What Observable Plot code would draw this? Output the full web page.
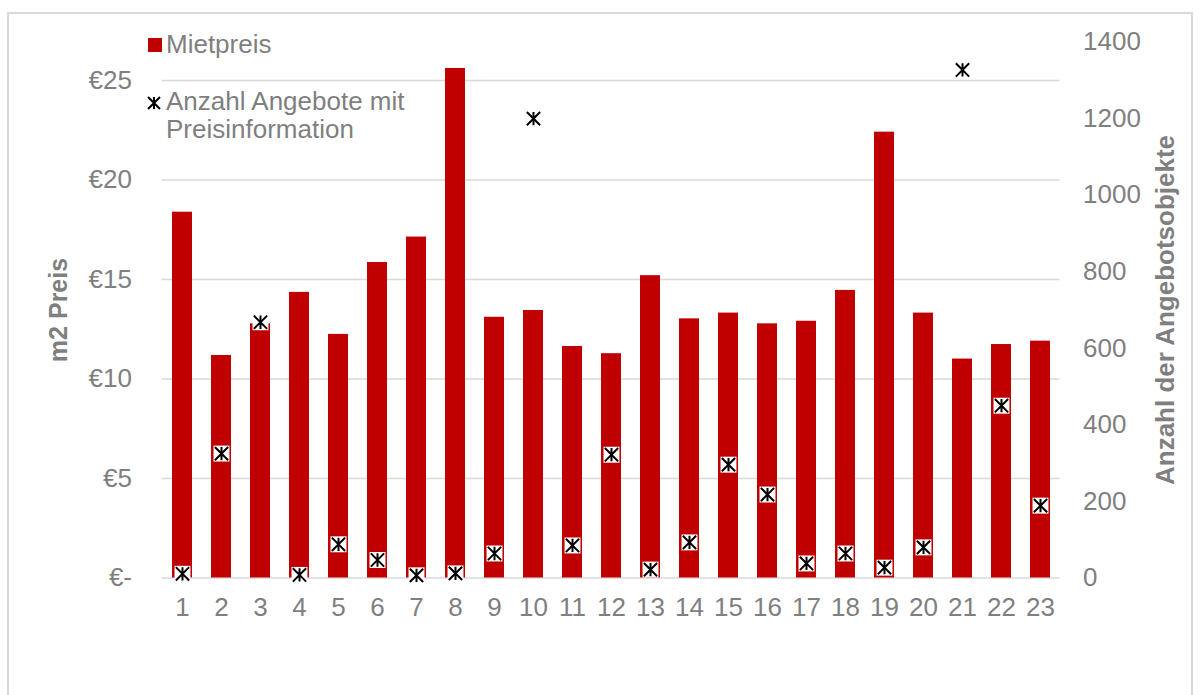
<!DOCTYPE html>
<html>
<head>
<meta charset="utf-8">
<script src="https://cdn.jsdelivr.net/npm/d3@7"></script>
<script src="https://cdn.jsdelivr.net/npm/@observablehq/plot@0.6"></script>
<style>
  html, body { margin: 0; padding: 0; background: #fff; overflow: hidden; }
  #wrap { position: relative; width: 1202px; height: 695px; }
  #frame { position: absolute; left: 7px; top: 12px; width: 1186px; height: 720px; border: 2px solid #d9d9d9; box-sizing: border-box; }
  #chart, #legend { position: absolute; left: 0; top: 0; }
</style>
</head>
<body>
<div id="wrap">
  <div id="frame"></div>
  <div id="chart"></div>
  <svg id="legend" width="1202" height="695"></svg>
</div>
<script>
const categories = ["1","2","3","4","5","6","7","8","9","10","11","12","13","14","15","16","17","18","19","20","21","22","23"];
const prices = [18.38, 11.18, 12.77, 14.35, 12.24, 15.85, 17.13, 25.6, 13.1, 13.44, 11.63, 11.27, 15.19, 13.02, 13.31, 12.77, 12.9, 14.45, 22.4, 13.31, 11.0, 11.73, 11.9];
const counts = [11, 325, 668, 8, 88, 47, 7, 12, 64, 1200, 85, 322, 22, 93, 296, 218, 38, 64, 27, 80, 1327, 450, 189];
const leftTicks = [0, 5, 10, 15, 20, 25];
const rightTicks = [0, 200, 400, 600, 800, 1000, 1200, 1400];
const seriesNames = ["Mietpreis", "Anzahl Angebote mit", "Preisinformation"];
const leftTitle = "m2 Preis";
const rightTitle = "Anzahl der Angebotsobjekte";

const yMax = 26.93;      // left axis max (€)
const countMax = 1400;   // right axis max
const k = yMax / countMax;

const data = categories.map((c, i) => ({cat: c, price: prices[i], count: counts[i]}));

const starX = {
  draw(context, size) {
    const r = Math.sqrt(size) / 2;
    context.moveTo(0, -r); context.lineTo(0, r);
    context.moveTo(-r, -r); context.lineTo(r, r);
    context.moveTo(-r, r); context.lineTo(r, -r);
  }
};

const gray = "#7f7f7f";
const font = "'Liberation Sans', Arial, sans-serif";

const chart = Plot.plot({
  width: 1202,
  height: 695,
  marginLeft: 161.5,
  marginRight: 142.5,
  marginTop: 41.5,
  marginBottom: 117.5,
  style: {fontFamily: font, fontSize: "26px", color: gray, background: "transparent", overflow: "visible"},
  x: {type: "band", domain: categories, paddingInner: 0.49, paddingOuter: 0.245, axis: null},
  y: {domain: [0, yMax], axis: null},
  marks: [
    Plot.ruleY(leftTicks, {stroke: "#d9d9d9", strokeWidth: 1.5}),
    Plot.barY(data, {x: "cat", y: "price", fill: "#c00000"}),
    Plot.dot(data, {x: "cat", y: d => d.count * k, symbol: "square", r: 9, fill: "white", stroke: "none"}),
    Plot.dot(data, {x: "cat", y: d => d.count * k, symbol: starX, r: 7.5, stroke: "black", strokeWidth: 2, fill: "none"}),
    Plot.axisX({tickSize: 0, tickPadding: 20, fontSize: 26, fill: gray, label: null}),
    Plot.axisY(leftTicks, {anchor: "left", tickSize: 0, tickPadding: 30, fontSize: 26, fill: gray, label: null,
      tickFormat: d => d === 0 ? "€-" : "€" + d}),
    Plot.axisY(rightTicks.map(c => c * k), {anchor: "right", tickSize: 0, tickPadding: 23, fontSize: 26, fill: gray, label: null,
      tickFormat: d => String(Math.round(d / k))}),
    Plot.text([leftTitle], {frameAnchor: "left", dx: -103, rotate: -90, textAnchor: "middle", lineAnchor: "middle", text: d => d, fontWeight: "bold", fontSize: 25, fill: gray}),
    Plot.text([rightTitle], {frameAnchor: "right", dx: 105.5, rotate: -90, textAnchor: "middle", lineAnchor: "middle", text: d => d, fontWeight: "bold", fontSize: 26, fill: gray})
  ]
});
document.getElementById("chart").appendChild(chart);

// legend
const lg = d3.select("#legend").style("font-family", font);
lg.append("rect").attr("x", 148).attr("y", 38).attr("width", 14).attr("height", 14).attr("fill", "#c00000");
lg.append("text").attr("x", 166).attr("y", 53).attr("font-size", 26).attr("fill", gray).text(seriesNames[0]);
const s = 6;
lg.append("path").attr("transform", "translate(154,103)")
  .attr("d", `M0,${-s}L0,${s}M${-s},${-s}L${s},${s}M${-s},${s}L${s},${-s}`)
  .attr("stroke", "black").attr("stroke-width", 2).attr("fill", "none");
lg.append("text").attr("x", 166).attr("y", 110).attr("font-size", 26).attr("fill", gray).text(seriesNames[1]);
lg.append("text").attr("x", 166).attr("y", 138).attr("font-size", 26).attr("fill", gray).text(seriesNames[2]);
</script>
</body>
</html>
